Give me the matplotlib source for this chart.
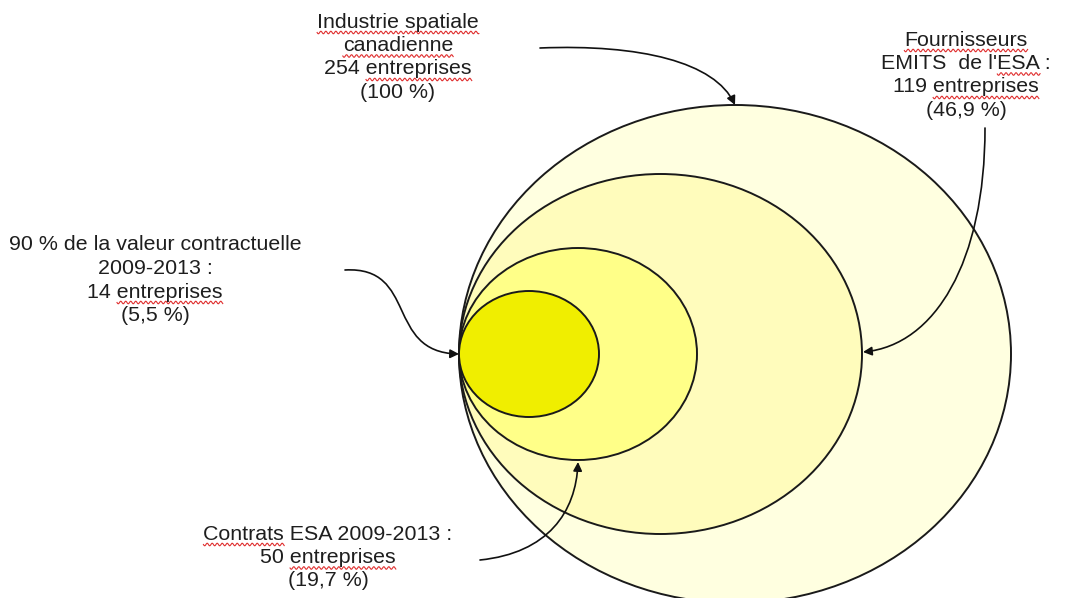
import numpy as np
import matplotlib
matplotlib.use("Agg")
import matplotlib.pyplot as plt
from matplotlib.patches import Ellipse, FancyArrowPatch
from matplotlib.path import Path

plt.rcParams['font.family'] = ['Liberation Sans', 'DejaVu Sans']

# groups, outermost first
groups = ["Industrie spatiale canadienne", "Fournisseurs EMITS de l'ESA",
          "Contrats ESA 2009-2013", "90 % de la valeur contractuelle 2009-2013"]
counts = [254, 119, 50, 14]
shares = ["100 %", "46,9 %", "19,7 %", "5,5 %"]

# ellipse layout in pixels (all touch at the left point)
left_x, mid_y = 459, 354
widths = [552, 403, 238, 140]
heights = [498, 360, 212, 126]
fills = ['#FFFFE0', '#FFFCBC', '#FFFF88', '#F0EE00']

# label blocks: center x, first line y, lines, words with spell-check squiggle
label_lines = [
    ["Industrie spatiale", "canadienne", "%d entreprises" % counts[0], "(%s)" % shares[0]],
    ["Fournisseurs", "EMITS  de l'ESA :", "%d entreprises" % counts[1], "(%s)" % shares[1]],
    ["90 % de la valeur contractuelle", "2009-2013 :", "%d entreprises" % counts[3], "(%s)" % shares[3]],
    ["Contrats ESA 2009-2013 :", "%d entreprises" % counts[2], "(%s)" % shares[2]],
]
label_pos = [(398, 22), (966, 40), (155, 245), (328, 534)]
squiggles = [
    [(0, "Industrie spatiale"), (1, "canadienne"), (2, "entreprises")],
    [(0, "Fournisseurs"), (1, "ESA"), (2, "entreprises")],
    [(2, "entreprises")],
    [(0, "Contrats"), (1, "entreprises")],
]
line_step = 23.5

# arrow paths (cubic bezier control points, pixels)
arrows = [
    [(540, 48), (640, 44), (715, 62), (735, 105)],
    [(985, 128), (985, 262), (935, 345), (863, 352)],
    [(345, 270), (418, 266), (385, 352), (459, 354)],
    [(480, 560), (548, 553), (576, 512), (578, 462)],
]

W, H = 1067, 598
fig = plt.figure(figsize=(W / 100, H / 100), dpi=100)
ax = fig.add_axes([0, 0, 1, 1])
ax.set_xlim(0, W)
ax.set_ylim(H, 0)
ax.axis('off')

for w, h, c in zip(widths, heights, fills):
    ax.add_patch(Ellipse((left_x + w / 2, mid_y), w, h, facecolor=c,
                         edgecolor='#1a1a1a', lw=1.4))

for pts in arrows:
    path = Path(pts, [Path.MOVETO, Path.CURVE4, Path.CURVE4, Path.CURVE4])
    ax.add_patch(FancyArrowPatch(path=path, arrowstyle='-|>', mutation_scale=13,
                                 color='#111111', lw=1.2))

fig.canvas.draw()
renderer = fig.canvas.get_renderer()
fs = 15.4

def text_width(s):
    t = ax.text(0, 0, s, fontsize=fs)
    bb = t.get_window_extent(renderer)
    t.remove()
    return bb.width

for lines, (cx, y0), sq in zip(label_lines, label_pos, squiggles):
    for i, line in enumerate(lines):
        y = y0 + i * line_step
        ax.text(cx, y, line, fontsize=fs, ha='center', va='center', color='#1e1e1e')
        for li, word in sq:
            if li != i:
                continue
            full = text_width(line)
            start = line.index(word)
            x1 = cx - full / 2 + (text_width(line[:start]) if start else 0)
            x2 = x1 + text_width(word)
            xs = np.linspace(x1, x2, int((x2 - x1) * 2) + 2)
            ys = y + 10.5 + 1.3 * np.sin((xs - x1) * np.pi / 2.5)
            ax.plot(xs, ys, color='#e03030', lw=0.8)

fig.savefig("out.png", dpi=100)
